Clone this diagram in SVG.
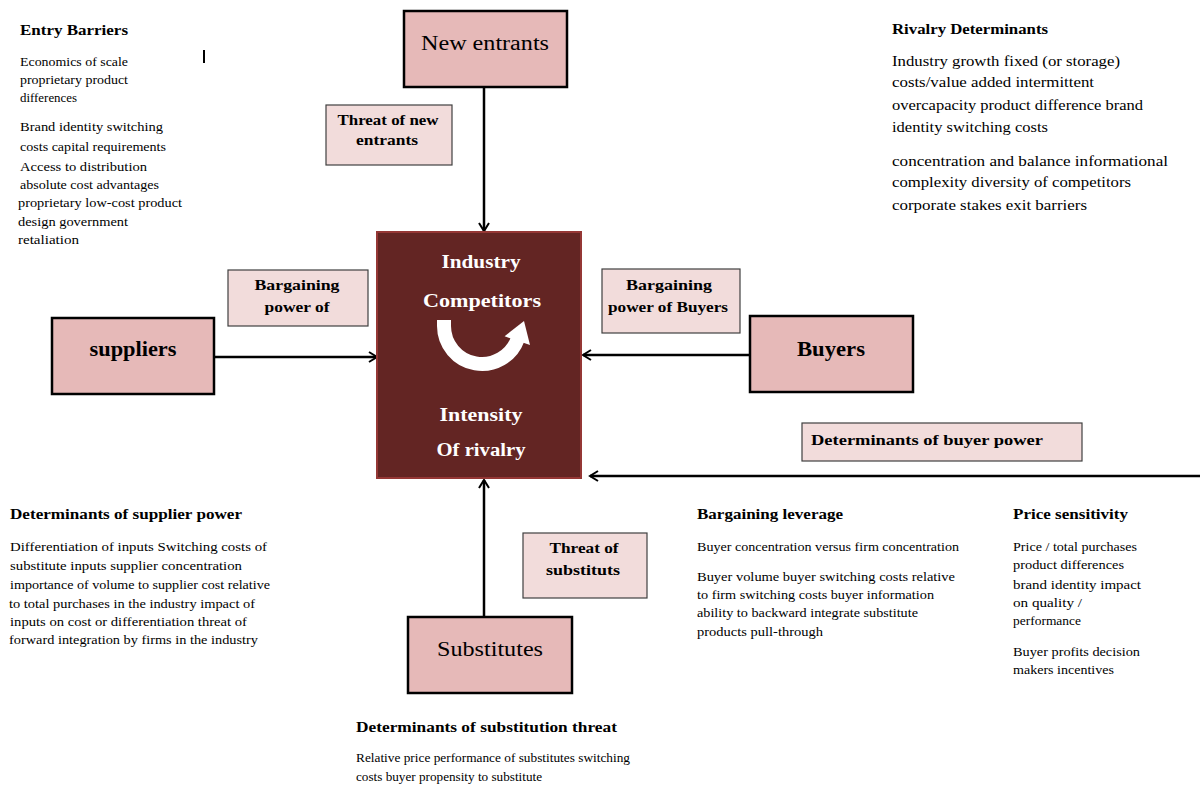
<svg xmlns="http://www.w3.org/2000/svg" width="1200" height="785" viewBox="0 0 1200 785">
<style>
text{font-family:"Liberation Serif","DejaVu Serif",serif;fill:#000}
.t{font-size:14px;font-weight:bold}
.b{font-size:12.5px}
.r{font-size:14px}
.lb{font-size:14px;font-weight:bold;text-anchor:middle}
.nd{font-size:20px;text-anchor:middle}
.ce{font-size:18px;font-weight:bold;fill:#fff;text-anchor:middle}
.node{fill:#e6b9b8;stroke:#000;stroke-width:2.5}
.lab{fill:#f2dcdb;stroke:#404040;stroke-width:1.2}
.con{stroke:#000;stroke-width:2.5;fill:none;marker-end:url(#ah)}
</style>
<defs>
<marker id="ah" viewBox="0 0 12 12" refX="10" refY="6" markerWidth="12" markerHeight="12" markerUnits="userSpaceOnUse" orient="auto">
<polyline points="2,1 10,6 2,11" fill="none" stroke="#000" stroke-width="2"/>
</marker>
</defs>
<rect width="1200" height="785" fill="#fff"/>

<g id="connectors">
<line class="con" x1="484" y1="88" x2="484" y2="231"/>
<line class="con" x1="484" y1="616" x2="484" y2="480"/>
<line class="con" x1="214" y1="357" x2="377" y2="357"/>
<line class="con" x1="750" y1="355" x2="583" y2="355"/>
<line class="con" x1="1200" y1="476" x2="590" y2="476"/>
</g>

<g id="center">
<rect x="377" y="232" width="204" height="246" fill="#632523" stroke="#953735" stroke-width="2"/>
<text class="ce" x="481" y="268" textLength="79" lengthAdjust="spacingAndGlyphs">Industry</text>
<text class="ce" x="482" y="307" textLength="118" lengthAdjust="spacingAndGlyphs">Competitors</text>
<path d="M444,320 L444,326 A38,38 0 0 0 517.7,339" fill="none" stroke="#fff" stroke-width="14"/>
<polygon points="524,321 504.6,336.3 530,345" fill="#fff"/>
<text class="ce" x="481" y="421" textLength="83" lengthAdjust="spacingAndGlyphs">Intensity</text>
<text class="ce" x="481" y="456" textLength="89" lengthAdjust="spacingAndGlyphs">Of rivalry</text>
</g>

<g id="new-entrants">
<rect class="node" x="404" y="11" width="163" height="76"/>
<text class="nd" x="485" y="50" textLength="128" lengthAdjust="spacingAndGlyphs">New entrants</text>
</g>
<g id="suppliers">
<rect class="node" x="52" y="318" width="162" height="76"/>
<text class="nd" x="133" y="356" font-weight="bold" textLength="87" lengthAdjust="spacingAndGlyphs">suppliers</text>
</g>
<g id="buyers">
<rect class="node" x="750" y="316" width="163" height="76"/>
<text class="nd" x="831" y="356" font-weight="bold" textLength="68" lengthAdjust="spacingAndGlyphs">Buyers</text>
</g>
<g id="substitutes">
<rect class="node" x="408" y="617" width="164" height="76"/>
<text class="nd" x="490" y="656" textLength="106" lengthAdjust="spacingAndGlyphs">Substitutes</text>
</g>

<g id="threat-new">
<rect class="lab" x="326" y="105" width="126" height="60"/>
<text class="lb" x="388" y="125" textLength="101" lengthAdjust="spacingAndGlyphs">Threat of new</text>
<text class="lb" x="387" y="145" textLength="62" lengthAdjust="spacingAndGlyphs">entrants</text>
</g>
<g id="bargain-suppliers">
<rect class="lab" x="228" y="270" width="140" height="56"/>
<text class="lb" x="297" y="290" textLength="85" lengthAdjust="spacingAndGlyphs">Bargaining</text>
<text class="lb" x="297" y="312" textLength="65" lengthAdjust="spacingAndGlyphs">power of</text>
</g>
<g id="bargain-buyers">
<rect class="lab" x="602" y="269" width="138" height="64"/>
<text class="lb" x="669" y="290" textLength="86" lengthAdjust="spacingAndGlyphs">Bargaining</text>
<text class="lb" x="668" y="312" textLength="120" lengthAdjust="spacingAndGlyphs">power of Buyers</text>
</g>
<g id="det-buyer">
<rect class="lab" x="802" y="423" width="280" height="38"/>
<text class="t" x="811" y="445" textLength="232" lengthAdjust="spacingAndGlyphs">Determinants of buyer power</text>
</g>
<g id="threat-subs">
<rect class="lab" x="523" y="533" width="124" height="65"/>
<text class="lb" x="584" y="553" textLength="69" lengthAdjust="spacingAndGlyphs">Threat of</text>
<text class="lb" x="583" y="575" textLength="74" lengthAdjust="spacingAndGlyphs">substituts</text>
</g>

<g id="entry-barriers">
<text class="t" x="20" y="35" textLength="108" lengthAdjust="spacingAndGlyphs">Entry Barriers</text>
<text class="b" x="20" y="66" textLength="108" lengthAdjust="spacingAndGlyphs">Economics of scale</text>
<text class="b" x="20" y="84" textLength="108" lengthAdjust="spacingAndGlyphs">proprietary product</text>
<text class="b" x="20" y="102" textLength="57" lengthAdjust="spacingAndGlyphs">differences</text>
<text class="b" x="20" y="131" textLength="143" lengthAdjust="spacingAndGlyphs">Brand identity switching</text>
<text class="b" x="20" y="151" textLength="146" lengthAdjust="spacingAndGlyphs">costs capital requirements</text>
<text class="b" x="20" y="171" textLength="127" lengthAdjust="spacingAndGlyphs">Access to distribution</text>
<text class="b" x="20" y="189" textLength="139" lengthAdjust="spacingAndGlyphs">absolute cost advantages</text>
<text class="b" x="18" y="207" textLength="164" lengthAdjust="spacingAndGlyphs">proprietary low-cost product</text>
<text class="b" x="18" y="226" textLength="110" lengthAdjust="spacingAndGlyphs">design government</text>
<text class="b" x="18" y="244" textLength="61" lengthAdjust="spacingAndGlyphs">retaliation</text>
<rect x="203" y="50" width="2" height="13" fill="#000"/>
</g>

<g id="rivalry-determinants">
<text class="t" x="892" y="34" textLength="156" lengthAdjust="spacingAndGlyphs">Rivalry Determinants</text>
<text class="r" x="892" y="66" textLength="228" lengthAdjust="spacingAndGlyphs">Industry growth  fixed (or storage)</text>
<text class="r" x="892" y="87" textLength="202" lengthAdjust="spacingAndGlyphs">costs/value added  intermittent</text>
<text class="r" x="892" y="110" textLength="251" lengthAdjust="spacingAndGlyphs">overcapacity product difference brand</text>
<text class="r" x="892" y="132" textLength="156" lengthAdjust="spacingAndGlyphs">identity switching costs</text>
<text class="r" x="892" y="166" textLength="276" lengthAdjust="spacingAndGlyphs">concentration  and  balance informational</text>
<text class="r" x="892" y="187" textLength="239" lengthAdjust="spacingAndGlyphs">complexity diversity of competitors</text>
<text class="r" x="892" y="210" textLength="195" lengthAdjust="spacingAndGlyphs">corporate  stakes exit barriers</text>
</g>

<g id="supplier-power">
<text class="t" x="10" y="519" textLength="232" lengthAdjust="spacingAndGlyphs">Determinants of supplier power</text>
<text class="b" x="10" y="551" textLength="257" lengthAdjust="spacingAndGlyphs">Differentiation  of inputs Switching costs of</text>
<text class="b" x="10" y="570" textLength="232" lengthAdjust="spacingAndGlyphs">substitute  inputs supplier concentration</text>
<text class="b" x="10" y="589" textLength="260" lengthAdjust="spacingAndGlyphs">importance of volume to supplier cost relative</text>
<text class="b" x="9" y="608" textLength="246" lengthAdjust="spacingAndGlyphs">to total purchases   in the industry impact of</text>
<text class="b" x="10" y="626" textLength="237" lengthAdjust="spacingAndGlyphs">inputs on cost or differentiation  threat  of</text>
<text class="b" x="9" y="644" textLength="249" lengthAdjust="spacingAndGlyphs">forward   integration by firms  in the industry</text>
</g>

<g id="bargaining-leverage">
<text class="t" x="697" y="519" textLength="146" lengthAdjust="spacingAndGlyphs">Bargaining leverage</text>
<text class="b" x="697" y="551" textLength="262" lengthAdjust="spacingAndGlyphs">Buyer concentration versus firm concentration</text>
<text class="b" x="697" y="581" textLength="258" lengthAdjust="spacingAndGlyphs">Buyer volume buyer switching  costs relative</text>
<text class="b" x="697" y="599" textLength="237" lengthAdjust="spacingAndGlyphs">to firm switching costs buyer information</text>
<text class="b" x="697" y="617" textLength="221" lengthAdjust="spacingAndGlyphs">ability to backward integrate substitute</text>
<text class="b" x="697" y="636" textLength="126" lengthAdjust="spacingAndGlyphs">products pull-through</text>
</g>

<g id="price-sensitivity">
<text class="t" x="1013" y="519" textLength="115" lengthAdjust="spacingAndGlyphs">Price sensitivity</text>
<text class="b" x="1013" y="551" textLength="124" lengthAdjust="spacingAndGlyphs">Price / total purchases</text>
<text class="b" x="1013" y="569" textLength="111" lengthAdjust="spacingAndGlyphs">product    differences</text>
<text class="b" x="1013" y="589" textLength="128" lengthAdjust="spacingAndGlyphs">brand identity   impact</text>
<text class="b" x="1013" y="607" textLength="69" lengthAdjust="spacingAndGlyphs">on quality /</text>
<text class="b" x="1013" y="625" textLength="68" lengthAdjust="spacingAndGlyphs">performance</text>
<text class="b" x="1013" y="656" textLength="127" lengthAdjust="spacingAndGlyphs">Buyer profits  decision</text>
<text class="b" x="1013" y="674" textLength="101" lengthAdjust="spacingAndGlyphs">makers incentives</text>
</g>

<g id="substitution-threat">
<text class="t" x="356" y="732" textLength="261" lengthAdjust="spacingAndGlyphs">Determinants of substitution threat</text>
<text class="b" x="356" y="762" textLength="274" lengthAdjust="spacingAndGlyphs">Relative price performance of substitutes  switching</text>
<text class="b" x="356" y="781" textLength="186" lengthAdjust="spacingAndGlyphs">costs buyer propensity to substitute</text>
</g>
</svg>
